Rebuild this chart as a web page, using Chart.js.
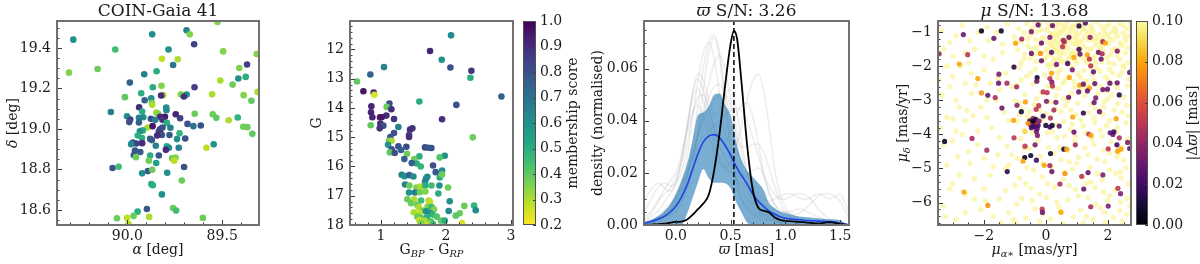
<!DOCTYPE html>
<html>
<head>
<meta charset="utf-8">
<script src="https://cdn.jsdelivr.net/npm/chart.js@4.4.1/dist/chart.umd.min.js"></script>
<style>
  body { margin: 0; background: #fff; }
  #wrap { position: relative; width: 1200px; height: 264px; }
  #wrap canvas { position: absolute; left: 0; top: 0; }
</style>
</head>
<body>
<div id="wrap">
  <canvas id="sky" width="1200" height="264"></canvas>
  <canvas id="cmd" width="1200" height="264"></canvas>
  <canvas id="cbMember" width="1200" height="264"></canvas>
  <canvas id="plx" width="1200" height="264"></canvas>
  <canvas id="pm" width="1200" height="264"></canvas>
  <canvas id="cbPlx" width="1200" height="264"></canvas>
</div>
<script>
// ---- data ----
// sky positions: [alpha deg, delta deg, membership score]
const skyPoints = [
  [89.525,19.528,.35],[89.688,19.487,.65],[89.671,19.467,.35],[89.869,19.467,.62],[90.285,19.441,.6],
  [89.648,19.418,.85],[90.064,19.392,.45],[89.783,19.392,.6],[89.495,19.383,.35],[89.318,19.370,.35],
  [89.818,19.347,.28],[89.734,19.344,.3],[89.759,19.316,.7],[89.369,19.318,.85],[90.308,19.278,.35],
  [90.157,19.296,.38],[89.410,19.301,.35],[89.846,19.285,.5],[89.911,19.270,.65],[89.415,19.249,.6],
  [89.376,19.257,.5],[89.510,19.239,.3],[89.987,19.229,.75],[89.445,19.219,.38],[89.820,19.213,.35],
  [89.866,19.206,.5],[89.646,19.206,.85],[89.313,19.183,.3],[89.927,19.176,.5],[89.718,19.171,.35],
  [89.687,19.170,.6],[89.553,19.171,.3],[89.387,19.167,.35],[89.811,19.167,.3],[89.822,19.165,.9],
  [89.702,19.160,.88],[90.013,19.157,.4],[89.874,19.152,.6],[89.909,19.142,.75],[89.871,19.129,.38],
  [89.346,19.139,.4],[89.869,19.119,.3],[89.938,19.107,.9],[89.795,19.106,.6],[89.794,19.093,.62],
  [89.922,19.086,.5],[90.087,19.084,.65],[89.848,19.081,.3],[89.839,19.076,.35],[89.745,19.073,.92],
  [89.645,19.075,.38],[89.550,19.073,.38],[90.002,19.063,.6],[89.531,19.055,.4],[89.827,19.060,.9],
  [89.802,19.060,.95],[89.916,19.058,.6],[89.939,19.055,.65],[89.985,19.047,.85],[89.876,19.050,.8],
  [89.853,19.045,.65],[89.722,19.053,.85],[89.815,19.045,.88],[89.418,19.057,.48],[89.990,19.034,.8],
  [89.939,19.032,.75],[89.792,19.030,.5],[89.683,19.025,.8],[89.466,19.043,.3],[89.894,19.007,.3],
  [89.867,19.014,.95],[89.773,19.006,.65],[89.652,19.014,.7],[89.613,19.017,.8],[89.389,19.011,.38],
  [89.367,19.009,.38],[89.827,18.999,.9],[89.815,19.007,.8],[89.918,18.993,.5],[89.934,18.989,.6],
  [89.834,18.989,.82],[89.825,18.978,.9],[89.945,18.968,.5],[89.778,18.970,.78],[89.818,18.970,.8],
  [89.725,18.979,.48],[89.341,18.976,.4],[89.923,18.955,.5],[89.843,18.968,.9],[89.880,18.951,.78],
  [89.871,18.945,.78],[89.738,18.950,.6],[89.695,18.953,.8],[89.971,18.933,.78],[89.953,18.928,.85],
  [89.922,18.930,.9],[89.980,18.925,.62],[89.850,18.917,.65],[89.792,18.915,.5],[89.781,18.907,.6],
  [89.583,18.907,.28],[89.545,18.924,.6],[89.729,18.907,.65],[89.797,18.897,.9],[89.960,18.894,.78],
  [89.932,18.886,.78],[89.966,18.871,.78],[89.955,18.861,.38],[89.880,18.869,.5],[89.834,18.869,.78],
  [89.764,18.855,.38],[89.746,18.859,.35],[89.753,18.843,.28],[89.887,18.843,.38],[89.848,18.832,.55],
  [90.078,18.807,.8],[90.046,18.813,.45],[89.701,18.812,.8],[89.892,18.792,.78],[89.869,18.799,.38],
  [89.922,18.781,.6],[89.790,18.784,.6],[89.713,18.746,.38],[89.874,18.728,.5],[89.866,18.722,.5],
  [89.818,18.677,.6],[89.897,18.605,.78],[89.759,18.610,.38],[89.743,18.597,.45],[89.946,18.592,.5],
  [89.967,18.571,.38],[89.885,18.566,.3],[90.055,18.559,.38],[90.002,18.561,.28],[89.602,18.561,.38],
  [89.994,18.531,.28]
];

// colour-magnitude: [BP-RP, G, membership score]
const cmdPoints = [
  [2.077,11.52,.62],[1.754,12.057,.92],[1.934,12.354,.6],[2.067,12.617,.8],[1.046,12.605,.65],
  [2.390,12.731,.88],[0.836,12.857,.75],[2.375,12.971,.5],[0.631,13.097,.4],[0.729,13.428,.95],
  [0.887,13.474,.92],[0.898,13.554,.25],[2.852,13.611,.75],[1.590,13.782,.5],[1.129,13.851,.82],
  [2.159,13.897,.8],[1.087,13.965,.38],[0.852,13.942,.92],[1.159,14.045,.9],[0.846,14.148,.92],
  [1.082,14.262,.9],[0.867,14.32,.92],[0.985,14.32,.95],[1.011,14.32,.95],[1.200,14.377,.88],
  [1.939,14.388,.9],[0.990,14.537,.9],[0.841,14.594,.4],[1.036,14.605,.8],[1.267,14.651,.65],
  [0.980,14.697,.88],[1.482,14.697,.88],[1.446,14.742,.9],[1.200,14.857,.8],[1.431,14.925,.85],
  [1.431,14.994,.9],[2.411,15.005,.38],[1.144,14.994,.8],[1.123,15.12,.38],[1.164,15.12,.3],
  [1.108,15.257,.6],[1.267,15.314,.8],[1.390,15.325,.82],[1.677,15.348,.82],[1.729,15.36,.78],
  [1.775,15.371,.8],[1.164,15.417,.8],[1.308,15.44,.75],[1.134,15.52,.4],[1.211,15.542,.8],
  [1.400,15.565,.38],[1.980,15.634,.6],[1.903,15.691,.42],[1.590,15.657,.5],[1.513,15.748,.38],
  [1.359,15.748,.75],[1.549,15.897,.5],[1.611,16.0,.48],[1.472,15.885,.75],[1.800,15.965,.8],
  [1.939,16.137,.6],[1.841,16.194,.78],[1.318,16.285,.65],[1.359,16.331,.6],[1.436,16.297,.75],
  [1.498,16.342,.62],[1.713,16.354,.6],[1.693,16.411,.62],[1.677,16.514,.65],[1.903,16.377,.5],
  [1.939,16.274,.38],[1.370,16.617,.65],[1.436,16.651,.38],[1.544,16.72,.35],[1.611,16.685,.3],
  [1.682,16.651,.5],[1.775,16.651,.45],[1.898,16.651,.6],[2.031,16.72,.38],[1.431,16.891,.6],
  [1.523,16.891,.65],[1.600,16.88,.38],[1.682,16.857,.35],[1.882,16.925,.5],[1.405,17.12,.38],
  [1.508,17.12,.3],[1.616,17.165,.45],[1.734,17.165,.3],[1.754,17.211,.28],[2.057,17.188,.6],
  [1.462,17.257,.38],[1.559,17.314,.38],[1.580,17.394,.3],[1.718,17.371,.35],[1.780,17.394,.48],
  [1.657,17.508,.38],[1.693,17.531,.6],[1.816,17.462,.35],[2.282,17.348,.38],[2.431,17.337,.48],
  [1.503,17.565,.3],[1.590,17.6,.28],[1.759,17.6,.6],[1.795,17.645,.48],[2.041,17.52,.62],
  [2.457,17.497,.62],[2.211,17.6,.38],[1.559,17.714,.38],[1.611,17.748,.4],[1.703,17.737,.5],
  [1.857,17.714,.42],[2.149,17.68,.4],[1.590,17.828,.28],[1.672,17.851,.3],[1.764,17.885,.45],
  [1.923,17.851,.4],[1.980,17.851,.5],[1.611,17.942,.35],[1.759,17.954,.3],[2.246,17.931,.25],
  [1.800,17.965,.45]
];

// parallax KDEs on a common grid (mas)
const plxGrid = [-0.3,-0.25,-0.2,-0.15,-0.1,-0.05,0,0.05,0.1,0.15,0.2,0.25,0.3,0.35,0.4,0.45,0.5,0.55,0.6,0.65,
  0.7,0.75,0.8,0.85,0.9,0.95,1.0,1.05,1.1,1.15,1.2,1.25,1.3,1.35,1.4,1.45,1.5,1.55,1.6];
const bandLow = [0,0,0,0,0,0,0,0,.0040,.0100,.0160,.0215,.0180,.0162,.0162,.0160,.0140,.0088,.0048,.0010,
  0,0,0,0,0,0,0,0,0,0,0,0,0,0,0,0,0,0,0];
const bandHigh = [.0010,.0016,.0025,.0036,.0055,.0080,.0120,.0170,.0230,.0320,.0420,.0432,.0455,.0500,.0505,.0462,.0420,.0320,.0250,.0210,
  .0185,.0162,.0135,.0085,.0065,.0052,.0046,.0040,.0035,.0032,.0030,.0028,.0026,.0024,.0022,.0021,.0018,.0006,0];
const medianKde = [.0006,.0010,.0016,.0024,.0034,.0050,.0072,.0105,.0150,.0210,.0270,.0318,.0341,.0347,.0335,.0305,.0268,.0225,.0190,.0158,
  .0120,.0092,.0072,.0054,.0042,.0032,.0026,.0023,.0021,.0019,.0017,.0016,.0015,.0014,.0013,.0011,.0007,.0003,0];
const greyKdes = [
  [0,0,.001,.002,.003,.004,.006,.010,.018,.030,.045,.060,.070,.073,.066,.050,.032,.018,.010,.006,.004,.003,.002,.002,.001,.001,.001,0,0,0,0,0,0,0,0,0,0,0,0],
  [0,.001,.002,.004,.006,.008,.010,.015,.025,.040,.055,.066,.070,.064,.050,.035,.025,.020,.018,.019,.021,.022,.019,.013,.008,.005,.003,.002,.001,0,0,0,0,0,0,0,0,0,0],
  [.002,.004,.007,.010,.012,.014,.018,.025,.035,.043,.046,.042,.035,.028,.024,.022,.024,.030,.038,.048,.055,.058,.052,.038,.022,.012,.007,.004,.003,.002,.001,0,0,0,0,0,0,0,0],
  [.008,.012,.015,.016,.014,.013,.016,.024,.036,.050,.056,.052,.044,.036,.030,.026,.022,.018,.014,.010,.007,.005,.004,.003,.002,.001,0,0,0,0,0,0,0,0,0,0,0,0,0],
  [.001,.002,.004,.006,.009,.012,.016,.024,.036,.050,.058,.056,.048,.042,.044,.050,.052,.045,.032,.020,.012,.008,.005,.004,.003,.002,.002,.001,.001,0,0,0,0,0,0,0,0,0,0],
  [0,0,.001,.002,.004,.006,.009,.013,.019,.026,.034,.040,.045,.048,.050,.050,.046,.038,.028,.020,.015,.012,.010,.009,.010,.011,.012,.012,.011,.010,.010,.011,.012,.011,.010,.011,.012,.008,.003],
  [0,.001,.002,.003,.005,.007,.010,.014,.020,.027,.035,.044,.054,.062,.065,.060,.048,.034,.022,.014,.009,.006,.004,.003,.002,.001,0,0,0,0,0,0,0,0,0,0,0,0,0],
  [0,.001,.002,.003,.005,.008,.011,.015,.020,.025,.030,.034,.036,.038,.040,.042,.044,.045,.044,.040,.034,.027,.020,.015,.012,.010,.010,.011,.012,.012,.011,.009,.006,.004,.002,.001,0,0,0],
  [.004,.008,.012,.015,.016,.015,.016,.020,.030,.042,.049,.050,.045,.038,.033,.032,.036,.042,.046,.047,.042,.032,.020,.012,.008,.006,.005,.005,.006,.006,.005,.004,.003,.002,.001,0,0,0,0],
  [0,0,0,.001,.002,.003,.005,.008,.013,.022,.035,.052,.066,.072,.064,.046,.028,.016,.010,.007,.005,.004,.003,.002,.002,.001,.001,0,0,0,0,0,0,0,0,0,0,0,0],
  [.001,.003,.006,.010,.014,.017,.020,.027,.038,.048,.052,.048,.040,.032,.026,.022,.020,.018,.016,.014,.012,.010,.008,.007,.006,.005,.005,.004,.004,.005,.007,.009,.011,.012,.012,.011,.009,.005,.002],
  [0,.001,.002,.003,.004,.006,.008,.012,.018,.026,.034,.042,.049,.053,.054,.050,.042,.034,.030,.030,.031,.031,.028,.022,.015,.009,.005,.003,.002,.001,0,0,0,0,0,0,0,0,0]
];
// member parallax KDE (black line)
const memberPlxX = [-0.3,-0.2,-0.1,0,0.05,0.1,0.15,0.2,0.25,0.3,0.35,0.4,0.45,0.5,0.53,0.56,0.6,0.65,0.7,0.75,
  0.8,0.85,0.9,0.95,1.0,1.1,1.2,1.3,1.4,1.5,1.58];
const memberPlxKde = [0,.0002,.0005,.0012,.0013,.0020,.0038,.0060,.0082,.0115,.0210,.0355,.0535,.0695,.0745,.0712,.0545,.0310,.0140,.0068,
  .0055,.0048,.0030,.0020,.0016,.0013,.0009,.0006,.0011,.0004,0];
const meanPlx = 0.53;

// proper motions of members: [pmra, pmdec, |dplx|]
const pmMembers = [
  [-2.08,-0.962,.005],[-1.442,-0.962,.008],[-2.663,-1.07,.03],[-0.253,-0.785,.03],[0.211,-0.805,.03],
  [1.27,-0.726,.025],[1.065,-0.815,.015],[-1.68,-1.178,.03],[-0.47,-0.982,.035],[0.125,-1.149,.035],
  [0.741,-1.149,.03],[-0.977,-1.326,.08],[-0.783,-1.198,.045],[-0.145,-1.316,.03],[0.557,-1.237,.045],
  [0.589,-1.277,.045],[1.421,-1.149,.04],[1.832,-1.277,.045],[1.918,-1.316,.08],[-3.441,-1.631,.045],
  [-2.523,-1.66,.05],[-0.47,-1.621,.03],[-0.178,-1.621,.075],[0.179,-1.591,.025],[1.065,-1.503,.02],
  [1.097,-1.641,.03],[1.335,-1.67,.08],[1.691,-1.591,.03],[1.81,-1.631,.045],[2.296,-1.552,.035],
  [0.535,-1.424,.05],[-2.793,-1.936,.08],[-1.031,-2.024,.015],[-0.145,-1.837,.03],[0.341,-1.945,.035],
  [0.697,-1.916,.02],[0.903,-1.739,.08],[1.4,-1.788,.05],[1.778,-1.788,.03],[1.443,-1.985,.05],
  [0.849,-2.103,.035],[1.529,-2.162,.03],[2.696,-2.181,.03],[-1.518,-2.23,.035],[-2.198,-2.358,.08],
  [-0.286,-2.329,.01],[0.179,-2.201,.08],[0.125,-2.358,.05],[-1.528,-2.496,.03],[-1.258,-2.496,.045],
  [-0.297,-2.437,.03],[0.189,-2.466,.035],[0.211,-2.575,.05],[0.751,-2.329,.08],[1.086,-2.555,.08],
  [1.205,-2.525,.03],[1.573,-2.506,.03],[2.059,-2.496,.03],[2.296,-2.486,.03],[-0.945,-2.604,.045],
  [-2.08,-2.781,.075],[-1.874,-2.85,.03],[-1.637,-2.919,.045],[-0.091,-2.752,.05],[0.038,-2.771,.05],
  [1.054,-2.752,.03],[1.4,-2.643,.08],[1.335,-2.722,.03],[1.832,-2.683,.03],[1.983,-2.673,.03],
  [2.361,-2.84,.015],[-0.934,-3.145,.04],[-0.664,-3.047,.08],[0.017,-3.027,.035],[0.319,-3.057,.035],
  [0.73,-2.909,.03],[1.605,-2.929,.035],[1.551,-3.066,.03],[-1.42,-3.224,.03],[-0.794,-3.332,.01],
  [-0.318,-3.263,.05],[-0.232,-3.155,.05],[0.254,-3.283,.045],[0.859,-3.489,.08],[1.205,-3.371,.015],
  [1.724,-3.332,.03],[2.264,-3.538,.08],[-0.091,-3.46,.015],[0.146,-3.519,.05],[-1.042,-3.587,.08],
  [-0.524,-3.607,.01],[-0.448,-3.578,.02],[-0.383,-3.656,.005],[-0.308,-3.676,.03],[-0.459,-3.735,.04],
  [-0.362,-3.774,.015],[-0.254,-3.735,.02],[-0.416,-3.528,.045],[-0.502,-3.706,.03],[-0.329,-3.558,.01],
  [-0.286,-3.833,.025],[-0.578,-3.676,.075],[-0.308,-3.637,.05],[-0.405,-3.607,.005],[-0.47,-3.804,.02],
  [-0.221,-3.607,.035],[-0.005,-3.735,.01],[0.125,-3.784,.02],[0.2,-3.735,.01],[0.427,-3.755,.03],
  [-0.675,-3.912,.09],[-0.308,-3.912,.03],[-0.275,-4.03,.035],[0.903,-3.932,.03],[1.378,-3.991,.05],
  [1.454,-4.03,.08],[2.07,-3.951,.03],[2.156,-4.0,.03],[2.188,-3.922,.02],[2.361,-4.099,.045],
  [-2.382,-4.118,.045],[-1.031,-4.099,.05],[-3.268,-4.207,.005],[0.578,-4.433,.01],[2.631,-4.236,.035],
  [2.696,-4.414,.03],[-1.907,-4.463,.045],[-0.675,-4.345,.05],[-0.351,-4.305,.035],[0.146,-4.561,.01],
  [0.665,-4.433,.08],[0.946,-4.305,.045],[2.005,-4.423,.05],[2.286,-4.305,.02],[2.307,-4.492,.08],
  [2.415,-4.433,.08],[-0.491,-4.62,.01],[-0.686,-4.679,.005],[-0.74,-4.787,.08],[-0.308,-4.758,.02],
  [-0.059,-4.905,.08],[0.125,-4.915,.045],[-1.248,-5.092,.015],[0.189,-5.092,.03],[0.611,-5.151,.075],
  [1.151,-5.23,.05],[1.356,-5.122,.03],[1.832,-5.19,.035],[0.449,-5.456,.045],[1.216,-5.603,.03],
  [2.318,-5.584,.05],[2.404,-5.741,.035],[-2.641,-5.692,.08],[-1.874,-6.085,.075],[-0.124,-6.193,.05],
  [-0.113,-6.292,.03],[0.481,-6.282,.08],[1.443,-6.124,.045],[2.005,-6.105,.035]
];
// field stars with |dplx| >= 0.1 mas: [pmra, pmdec]
const pmField = [
  [-3.1,-1.3],[-3.3,-1.5],[-3.0,-1.7],[-2.9,-1.1],[-3.2,-2.0],[-2.6,-1.6],[-2.3,-1.5],[-2.0,-1.7],[-2.4,-2.2],[-3.1,-2.6],
  [-2.6,-2.5],[-1.7,-1.8],[-1.4,-1.6],[-2.9,-3.0],[-2.4,-2.8],[-2.8,-3.2],[-2.1,-3.2],[-3.2,-3.5],[-2.6,-3.6],[-1.9,-3.5],
  [-2.9,-3.9],[-2.2,-3.9],[-3.3,-4.3],[-3.0,-4.2],[-2.5,-4.5],[-2.0,-4.7],[-3.2,-4.9],[-2.8,-5.2],[-2.3,-5.3],[-1.8,-5.2],
  [-3.1,-5.6],[-2.3,-5.9],[-2.6,-6.3],[-1.5,-5.9],[-1.7,-6.4],[-1.2,-6.3],[-3.3,-6.1],[-1.3,-5.0],[-1.5,-4.1],[-1.2,-3.6],
  [-1.6,-3.0],[-1.1,-2.6],[-1.3,-2.2],[-1.8,-2.5],[-1.0,-1.3],[-1.6,-1.0],[-2.2,-1.0],[-2.7,-0.8],[-1.1,-4.6],[-1.0,-5.5],
  [-0.62,-0.74],[-0.21,-0.78],[0.08,-0.72],[0.41,-0.76],[0.68,-0.73],[0.93,-0.79],[1.27,-0.75],[1.62,-0.71],[2.03,-0.77],[2.38,-0.74],
  [-0.88,-0.90],[-0.43,-0.86],[0.02,-0.92],[0.31,-0.87],[0.58,-0.93],[1.02,-0.85],[1.18,-0.91],[1.48,-0.88],[1.87,-0.94],[2.21,-0.86],[2.62,-0.90],
  [-0.71,-1.02],[-0.28,-0.99],[0.19,-1.05],[0.52,-1.01],[0.81,-0.97],[1.09,-1.04],[1.41,-1.00],[1.73,-1.06],[2.12,-0.98],[2.49,-1.03],
  [-1.02,-1.14],[-0.52,-1.10],[-0.08,-1.16],[0.36,-1.12],[0.63,-1.18],[0.97,-1.09],[1.24,-1.15],[1.57,-1.11],[1.84,-1.17],[2.31,-1.13],
  [-0.79,-1.27],[-0.33,-1.23],[0.06,-1.29],[0.47,-1.25],[0.77,-1.21],[1.06,-1.28],[1.36,-1.24],[1.76,-1.30],[2.16,-1.22],[2.58,-1.26],
  [-0.58,-1.40],[-0.18,-1.36],[0.27,-1.42],[0.56,-1.37],[0.88,-1.33],[1.22,-1.41],[1.61,-1.38],[2.01,-1.34],[2.44,-1.39],
  [-0.91,-1.52],[-0.46,-1.49],[-0.02,-1.55],[0.39,-1.51],[0.71,-1.47],[1.01,-1.53],[1.46,-1.50],[1.86,-1.56],[2.24,-1.48],
  [-0.69,-1.64],[-0.24,-1.60],[0.16,-1.66],[0.59,-1.62],[0.86,-1.68],[1.31,-1.63],[1.69,-1.59],[2.09,-1.65],[2.56,-1.61],
  [-0.51,-1.77],[0.01,-1.73],[0.34,-1.79],[0.76,-1.75],[1.14,-1.71],[1.54,-1.78],[1.96,-1.74],[2.39,-1.80],
  [-0.81,-1.90],[-0.31,-1.86],[0.21,-1.92],[0.54,-1.88],[0.94,-1.84],[1.34,-1.91],[1.79,-1.87],[2.19,-1.93],[2.66,-1.89],
  [0.12,-0.82],[0.45,-0.95],[0.72,-1.08],[0.25,-1.20],[0.95,-1.32],[0.62,-1.45],[0.35,-1.58],[1.12,-1.55],[0.83,-1.71],[0.48,-1.83],
  [1.28,-0.96],[0.15,-1.33],[1.55,-1.25],[0.05,-1.48],[1.75,-1.45],
  [0.33,-0.70],[0.87,-0.83],[1.44,-0.80],[1.95,-0.83],[2.50,-0.81],[0.66,-1.13],[1.33,-1.07],[2.05,-1.20],[2.68,-1.10],[0.14,-1.02],
  [0.98,-1.20],[1.68,-1.20],[2.40,-1.31],[0.42,-1.36],[1.12,-1.45],[1.83,-1.40],[2.63,-1.45],[0.24,-1.52],[0.90,-1.58],[1.58,-1.70],
  [2.30,-1.70],[0.68,-1.82],[1.25,-1.83],[2.02,-1.90],[0.05,-1.95],[0.38,-2.18],[1.02,-2.22],[1.75,-2.15],[2.45,-2.17],[0.62,-2.40],
  [1.30,-2.42],[2.00,-2.40],[2.68,-2.38],[-0.25,-2.40],[0.22,-2.62],[1.10,-2.70],[1.95,-2.72],[-0.48,-0.95],[-0.15,-1.20],[-0.40,-1.65],
  [-0.05,-1.80],[0.78,-0.88],[1.52,-0.98],[2.27,-1.05],[0.50,-1.58],[1.40,-1.80],[2.15,-1.52],[0.95,-1.00],[1.85,-1.30],[0.28,-1.05],
  [-0.35,-0.70],[0.55,-0.80],[1.05,-0.72],[1.78,-0.82],[2.25,-0.95],[2.70,-0.75],[-0.15,-0.93],[0.40,-1.05],[0.85,-1.15],[1.48,-1.18],
  [2.00,-1.08],[2.55,-1.15],[-0.60,-1.20],[0.18,-1.40],[0.70,-1.30],[1.15,-1.25],[1.70,-1.55],[2.35,-1.55],[-0.30,-1.45],[0.45,-1.70],
  [1.05,-1.65],[1.60,-1.90],[2.48,-1.98],[-0.70,-1.78],[0.30,-2.00],[0.75,-1.95],[1.45,-2.02],[2.15,-2.20],[-0.50,-2.20],[0.90,-2.45],
  [0.62,-0.88],[1.20,-0.83],[1.92,-1.05],[0.30,-1.28],[1.02,-1.42],[0.80,-1.62],[0.10,-1.62],[1.35,-1.50],[0.25,-1.78],[1.00,-1.90],
  [-0.85,-2.05],[-0.35,-2.08],[0.12,-2.02],[0.48,-2.10],[0.86,-2.04],[1.22,-2.12],[1.63,-2.06],[2.05,-2.09],[2.52,-2.03],
  [-0.62,-2.30],[-0.05,-2.26],[0.38,-2.34],[0.74,-2.28],[1.12,-2.33],[1.49,-2.25],[1.92,-2.31],[2.35,-2.27],
  [-0.95,-2.55],[-0.42,-2.52],[0.05,-2.58],[0.55,-2.50],[0.92,-2.61],[1.38,-2.55],[1.77,-2.60],[2.22,-2.52],[2.62,-2.58],
  [-0.68,-2.82],[-0.15,-2.78],[0.32,-2.85],[0.82,-2.80],[1.25,-2.86],[1.68,-2.79],[2.12,-2.84],[2.51,-2.90],
  [1.55,-2.40],[2.30,-2.62],[-0.80,-2.40],[0.40,-2.65],[1.25,-2.62],[2.00,-2.95],[-0.30,-2.95],[0.55,-2.95],[1.85,-3.20],[2.60,-3.15],
  [-0.88,-3.08],[-0.38,-3.12],[0.15,-3.05],[0.62,-3.15],[1.02,-3.08],[1.45,-3.12],[1.88,-3.04],[2.32,-3.10],
  [-0.55,-3.35],[0.02,-3.40],[0.48,-3.33],[0.96,-3.42],[1.38,-3.36],[1.82,-3.41],[2.45,-3.35],
  [-0.92,-3.62],[-0.12,-3.58],[0.58,-3.62],[1.12,-3.58],[1.58,-3.65],[2.05,-3.60],[2.58,-3.66],
  [-0.70,-3.88],[0.22,-3.92],[0.78,-3.86],[1.28,-3.95],[1.75,-3.88],[2.28,-3.94],
  [-0.6,-3.5],[-0.2,-3.3],[0.35,-3.7],[-0.75,-3.25],
  [0.70,-3.00],[1.60,-3.25],[2.20,-3.28],[0.30,-3.25],[1.20,-3.75],[1.95,-3.75],[2.65,-3.45],[0.85,-3.70],[-0.45,-3.95],[1.55,-4.30],
  [-0.85,-3.42],[0.80,-3.30],[1.55,-3.50],[2.30,-3.80],[0.05,-3.95],[0.95,-4.05],[1.80,-4.05],[2.50,-4.75],[-0.70,-4.40],[0.45,-4.40],
  [-0.82,-4.12],[-0.25,-4.18],[0.35,-4.10],[0.92,-4.20],[1.48,-4.14],[2.10,-4.22],[2.62,-4.15],
  [-0.55,-4.42],[0.08,-4.38],[0.72,-4.48],[1.25,-4.40],[1.85,-4.46],[2.45,-4.38],
  [-0.92,-4.70],[-0.18,-4.65],[0.48,-4.74],[1.05,-4.68],[1.65,-4.72],[2.28,-4.66],
  [1.35,-4.60],[2.05,-4.55],[-0.10,-4.85],[0.75,-4.80],[1.65,-5.15],[2.40,-5.10],[-0.65,-5.45],[0.75,-5.50],[1.30,-5.45],[2.05,-5.80],
  [-0.62,-4.98],[0.18,-4.95],[0.85,-5.02],[1.42,-4.96],[2.05,-5.04],[2.58,-4.98],
  [-0.85,-5.28],[-0.12,-5.25],[0.55,-5.32],[1.18,-5.26],[1.82,-5.34],[2.42,-5.28],
  [-0.48,-5.58],[0.28,-5.55],[0.95,-5.62],[1.58,-5.56],[2.22,-5.64],
  [-0.78,-5.88],[0.02,-5.85],[0.72,-5.92],[1.35,-5.86],[1.98,-5.94],[2.62,-5.88],
  [-0.35,-6.18],[0.42,-6.15],[1.12,-6.22],[1.75,-6.16],[2.38,-6.24],
  [-0.65,-6.45],[0.15,-6.48],[0.88,-6.42],[1.52,-6.50],[2.18,-6.44],
  [-0.98,-6.60],[0.55,-6.62],[1.92,-6.58],
  [-0.45,-5.95],[0.50,-6.30],[1.90,-6.30],[2.70,-6.10],[-0.20,-6.55],[1.20,-6.60],[2.45,-6.55],
  [0.60,-4.05],[2.35,-4.55],[0.25,-4.55],[1.00,-4.85],[1.90,-4.80],[-0.40,-5.05],[0.60,-5.10],[2.25,-5.15],[0.05,-5.45],[1.45,-5.40],
  [2.65,-5.45],[-0.20,-5.75],[1.05,-5.80],[1.85,-5.70],[0.35,-6.00],[1.60,-6.05],[2.40,-6.00],[-0.10,-6.35],[1.30,-6.40],[2.60,-6.35],
  [-1.4,-1.35],[-1.85,-1.25],[-2.45,-1.25],[-3.0,-2.3],[-2.0,-2.1],[-1.5,-2.7],[-2.25,-2.55],[-3.35,-2.85],[-1.35,-3.35],[-2.55,-3.3],
  [-1.75,-3.8],[-2.7,-4.0],[-1.25,-4.35],[-1.7,-4.95],[-2.45,-4.85],[-3.0,-5.45],[-2.0,-5.6],[-1.3,-5.65],[-2.9,-6.5],[-2.1,-6.2],
  [-1.45,-6.6],[-0.95,-6.05],[-1.9,-0.85],[-3.35,-0.95],[-2.5,-1.9],[-3.4,-3.8],[-1.0,-3.0],[-1.05,-2.0],[-1.2,-4.9],[-2.2,-4.3],
  [-1.25,-0.75],[-1.55,-2.35],[-2.75,-2.0],[-3.45,-2.4],[-1.9,-3.0],[-2.35,-3.45],[-3.0,-3.55],[-1.55,-4.6],[-2.85,-4.65],[-1.95,-5.95],
  [-2.6,-5.75],[-3.25,-6.4],[-1.05,-6.5]
];

// ---- colour maps ----
const viridisStops = ['#440154','#482475','#414487','#355f8d','#2a788e','#21918c','#22a884','#44bf70','#7ad151','#bddf26','#fde725'];
const infernoStops = ['#000004','#160b39','#420a68','#6a176e','#932667','#bc3754','#dd513a','#f37819','#fca50a','#f6d746','#fcffa4'];

function hexRgb(h) {
  return [parseInt(h.slice(1, 3), 16), parseInt(h.slice(3, 5), 16), parseInt(h.slice(5, 7), 16)];
}
function cmap(stops, t, alpha) {
  t = Math.max(0, Math.min(1, t));
  const f = t * (stops.length - 1);
  const i = Math.min(Math.floor(f), stops.length - 2);
  const a = hexRgb(stops[i]), b = hexRgb(stops[i + 1]);
  const k = f - i;
  const c = a.map((v, j) => Math.round(v + (b[j] - v) * k));
  return `rgba(${c[0]},${c[1]},${c[2]},${alpha === undefined ? 1 : alpha})`;
}
const memberColor = m => cmap(viridisStops, (1.0 - m) / 0.8);
const plxColor = v => cmap(infernoStops, v / 0.1, 0.9);

// ---- drawing helpers ----
const FONT = "'DejaVu Serif', 'Liberation Serif', serif";
const TXT = '#1a1a1a';
const W = 1200, H = 264;
const AXW = 50, AXH = 30;   // fixed sizes of the axis boxes

function richText(ctx, segs, x, y, size, angle) {
  const parts = segs.map(([t, s]) => {
    const sub = s.startsWith('sub');
    const it = s === 'i' || s === 'subi';
    const fs = sub ? size * 0.7 : size;
    const font = (it ? 'italic ' : '') + fs + 'px ' + FONT;
    ctx.font = font;
    return { t, font, w: ctx.measureText(t).width, dy: sub ? size * 0.3 : 0 };
  });
  const total = parts.reduce((a, p) => a + p.w, 0);
  ctx.save();
  ctx.translate(x, y);
  ctx.rotate(angle || 0);
  ctx.textBaseline = 'middle';
  ctx.textAlign = 'left';
  ctx.fillStyle = TXT;
  let cx = -total / 2;
  parts.forEach(p => { ctx.font = p.font; ctx.fillText(p.t, cx, p.dy); cx += p.w; });
  ctx.restore();
}

function fmt(v, dec) {
  if (Math.abs(v) < 1e-9) v = 0;
  return v.toFixed(dec).replace('-', '\u2212');
}

function axis(pos, min, max, step, dec, extra) {
  const horiz = pos === 'bottom';
  return Object.assign({
    type: 'linear', position: pos, min: min, max: max,
    grid: { display: false, drawTicks: false },
    border: { display: false },
    ticks: {
      stepSize: step, includeBounds: false, autoSkip: false, maxRotation: 0,
      padding: horiz ? 3 : (pos === 'right' ? 4 : 6), color: TXT, font: { family: FONT, size: 14 },
      callback: v => fmt(v, dec)
    },
    afterFit: s => { if (horiz) s.height = AXH; else s.width = AXW; }
  }, extra || {});
}

function padFor(box) {
  return { left: box.L - AXW, right: W - box.R, top: box.T, bottom: H - box.B - AXH };
}

// frame, inward ticks on left/bottom, titles and axis labels
function decor(cfg) {
  return {
    id: 'decor',
    afterDatasetsDraw(chart) {
      const { ctx, chartArea: a } = chart;
      const xs = chart.scales.x, ys = chart.scales.y;
      ctx.save();
      ctx.strokeStyle = '#3a3a3a';
      ctx.lineWidth = 1;
      const seg = (x1, y1, x2, y2) => { ctx.beginPath(); ctx.moveTo(x1, y1); ctx.lineTo(x2, y2); ctx.stroke(); };
      const minors = (scale, step) => {
        const out = [];
        const lo = Math.min(scale.min, scale.max), hi = Math.max(scale.min, scale.max);
        for (let k = Math.ceil(lo / step - 1e-9); k * step <= hi + 1e-9; k++) out.push(k * step);
        return out;
      };
      minors(xs, cfg.minorX).forEach(v => { const p = Math.round(xs.getPixelForValue(v)) + 0.5; seg(p, a.bottom, p, a.bottom - 2.5); });
      xs.ticks.forEach(t => { const p = Math.round(xs.getPixelForValue(t.value)) + 0.5; seg(p, a.bottom, p, a.bottom - 5); });
      minors(ys, cfg.minorY).forEach(v => { const p = Math.round(ys.getPixelForValue(v)) + 0.5; seg(a.left, p, a.left + 2.5, p); });
      ys.ticks.forEach(t => { const p = Math.round(ys.getPixelForValue(t.value)) + 0.5; seg(a.left, p, a.left + 5, p); });
      ctx.strokeStyle = '#707070';
      ctx.lineWidth = 2;
      ctx.strokeRect(a.left, a.top, a.right - a.left, a.bottom - a.top);
      ctx.restore();
    },
    afterDraw(chart) {
      const { ctx, chartArea: a } = chart;
      const cx = (a.left + a.right) / 2, cy = (a.top + a.bottom) / 2;
      if (cfg.title) richText(ctx, cfg.title, cx, 12, 17, 0);
      richText(ctx, cfg.xLabel, cx, 250, 14, 0);
      richText(ctx, cfg.yLabel, cfg.yLabelX, cy, 14, -Math.PI / 2);
    }
  };
}

function colorbarDecor(label, labelX) {
  return {
    id: 'cbDecor',
    afterDraw(chart) {
      const { ctx, chartArea: a } = chart;
      const ys = chart.scales.y;
      ctx.save();
      ctx.strokeStyle = '#3a3a3a';
      ctx.lineWidth = 1;
      ys.ticks.forEach(t => {
        const p = Math.round(ys.getPixelForValue(t.value)) + 0.5;
        ctx.beginPath(); ctx.moveTo(a.right, p); ctx.lineTo(a.right - 3, p); ctx.stroke();
      });
      ctx.strokeStyle = '#505050';
      ctx.strokeRect(a.left + 0.5, a.top + 0.5, a.right - a.left - 1, a.bottom - a.top - 1);
      ctx.restore();
      richText(ctx, label, labelX, (a.top + a.bottom) / 2, 14, -Math.PI / 2);
    }
  };
}

function colorbar(id, box, min, max, step, dec, stops, reverse, label, labelX) {
  new Chart(document.getElementById(id), {
    type: 'bar',
    data: {
      labels: ['cb'],
      datasets: [{
        data: [[min, max]],
        barPercentage: 1, categoryPercentage: 1, borderWidth: 0,
        backgroundColor: c => {
          const area = c.chart.chartArea;
          if (!area) return '#888';
          const g = c.chart.ctx.createLinearGradient(0, area.bottom, 0, area.top);
          stops.forEach((s, i) => {
            const f = i / (stops.length - 1);
            g.addColorStop(reverse ? 1 - f : f, s);
          });
          return g;
        }
      }]
    },
    options: {
      responsive: false, animation: false, events: [],
      layout: { padding: { left: box.L, right: W - box.R - AXW, top: box.T, bottom: H - box.B } },
      plugins: { legend: { display: false }, tooltip: { enabled: false } },
      scales: {
        x: { display: false },
        y: axis('right', min, max, step, dec)
      }
    },
    plugins: [colorbarDecor(label, labelX)]
  });
}

const baseOpts = box => ({
  responsive: false, animation: false, events: [],
  layout: { padding: padFor(box) },
  plugins: { legend: { display: false }, tooltip: { enabled: false } }
});

// ---- panel 1: sky ----
const skyBox = { L: 57, R: 259, T: 21, B: 225 };
new Chart(document.getElementById('sky'), {
  type: 'scatter',
  data: { datasets: [{
    data: skyPoints.map(p => ({ x: p[0], y: p[1] })),
    pointRadius: 3.3, pointBorderWidth: 0,
    pointBackgroundColor: skyPoints.map(p => memberColor(p[2]))
  }] },
  options: Object.assign(baseOpts(skyBox), {
    scales: {
      x: axis('bottom', 89.306, 90.371, 0.5, 1, { reverse: true }),
      y: axis('left', 18.526, 19.533, 0.2, 1)
    }
  }),
  plugins: [decor({
    title: [['COIN-Gaia 41', '']],
    xLabel: [['\u03b1', 'i'], [' [deg]', '']],
    yLabel: [['\u03b4', 'i'], [' [deg]', '']],
    yLabelX: 13, minorX: 0.1, minorY: 0.05
  })]
});

// ---- panel 2: CMD ----
const cmdBox = { L: 350, R: 513, T: 21, B: 225 };
new Chart(document.getElementById('cmd'), {
  type: 'scatter',
  data: { datasets: [{
    data: cmdPoints.map(p => ({ x: p[0], y: p[1] })),
    pointRadius: 3.3, pointBorderWidth: 0,
    pointBackgroundColor: cmdPoints.map(p => memberColor(p[2]))
  }] },
  options: Object.assign(baseOpts(cmdBox), {
    scales: {
      x: axis('bottom', 0.523, 3.03, 1, 0),
      y: axis('left', 11.03, 18.0, 1, 0, { reverse: true })
    }
  }),
  plugins: [decor({
    xLabel: [['G', ''], ['BP', 'subi'], [' - G', ''], ['RP', 'subi']],
    yLabel: [['G', '']],
    yLabelX: 317, minorX: 0.2, minorY: 0.2
  })]
});
colorbar('cbMember', { L: 523, R: 536, T: 21, B: 225 }, 0.2, 1.0, 0.1, 1, viridisStops, true,
  [['membership score', '']], 573);

// ---- panel 3: parallax KDEs ----
const plxBox = { L: 644, R: 849, T: 21, B: 225 };
const curve = (xs, ys) => xs.map((x, i) => ({ x: x, y: ys[i] }));
const plxSets = greyKdes.map(ys => ({
  data: curve(plxGrid, ys), showLine: true, pointRadius: 0, borderWidth: 1.5,
  borderColor: 'rgba(150,150,150,0.17)', cubicInterpolationMode: 'monotone', order: 10
}));
plxSets.push({
  data: curve(plxGrid, bandLow), showLine: true, pointRadius: 0, borderWidth: 0,
  cubicInterpolationMode: 'monotone', fill: false, order: 6
});
plxSets.push({
  data: curve(plxGrid, bandHigh), showLine: true, pointRadius: 0, borderWidth: 0,
  cubicInterpolationMode: 'monotone', fill: '-1', backgroundColor: 'rgba(31,119,180,0.6)', order: 5
});
plxSets.push({
  data: curve(plxGrid, medianKde), showLine: true, pointRadius: 0, borderWidth: 1.6,
  borderColor: '#1f45e0', cubicInterpolationMode: 'monotone', order: 3
});
plxSets.push({
  data: curve(memberPlxX, memberPlxKde), showLine: true, pointRadius: 0, borderWidth: 1.8,
  borderColor: '#000', cubicInterpolationMode: 'monotone', order: 2
});
plxSets.push({
  data: [{ x: meanPlx, y: 0 }, { x: meanPlx, y: 0.0783 }], showLine: true, pointRadius: 0,
  borderWidth: 1.5, borderColor: '#000', borderDash: [5, 3], order: 1
});
new Chart(document.getElementById('plx'), {
  type: 'scatter',
  data: { datasets: plxSets },
  options: Object.assign(baseOpts(plxBox), {
    scales: {
      x: axis('bottom', -0.29, 1.58, 0.5, 1),
      y: axis('left', 0, 0.0783, 0.02, 2)
    }
  }),
  plugins: [decor({
    title: [['\u03d6', 'i'], [' S/N: 3.26', '']],
    xLabel: [['\u03d6', 'i'], [' [mas]', '']],
    yLabel: [['density (normalised)', '']],
    yLabelX: 598, minorX: 0.1, minorY: 0.005
  })]
});

// ---- panel 4: proper motions ----
const pmBox = { L: 938, R: 1131, T: 21, B: 225 };
new Chart(document.getElementById('pm'), {
  type: 'scatter',
  data: { datasets: [
    {
      data: pmMembers.map(p => ({ x: p[0], y: p[1] })),
      pointRadius: 2.6, pointBorderWidth: 0,
      pointBackgroundColor: pmMembers.map(p => plxColor(p[2])), order: 1
    },
    {
      data: pmField.map(p => ({ x: p[0], y: p[1] })),
      pointRadius: 2.7, pointBorderWidth: 0,
      pointBackgroundColor: 'rgba(250,242,135,0.6)', order: 2
    }
  ] },
  options: Object.assign(baseOpts(pmBox), {
    scales: {
      x: axis('bottom', -3.48, 2.74, 2, 0),
      y: axis('left', -6.66, -0.67, 1, 0)
    }
  }),
  plugins: [decor({
    title: [['\u03bc', 'i'], [' S/N: 13.68', '']],
    xLabel: [['\u03bc', 'i'], ['\u03b1', 'subi'], ['\u2217', 'sub'], [' [mas/yr]', '']],
    yLabel: [['\u03bc', 'i'], ['\u03b4', 'subi'], [' [mas/yr]', '']],
    yLabelX: 903, minorX: 0.5, minorY: 0.2
  })]
});
colorbar('cbPlx', { L: 1136, R: 1148, T: 21, B: 225 }, 0, 0.1, 0.02, 2, infernoStops, false,
  [['|\u0394', ''], ['\u03d6', 'i'], ['| [mas]', '']], 1193);
</script>
</body>
</html>
